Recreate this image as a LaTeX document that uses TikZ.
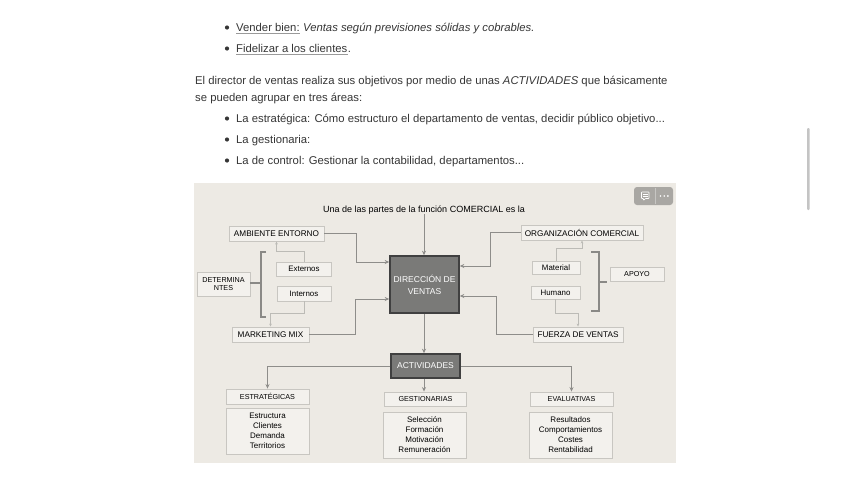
\documentclass[tikz,border=0pt]{standalone}
\usepackage{fontspec}
\setmainfont{Liberation Sans}
\usetikzlibrary{arrows.meta}
\definecolor{doctext}{HTML}{363636}
\definecolor{ulc}{HTML}{9A9A9A}
\definecolor{bg}{HTML}{EDEAE4}
\definecolor{boxfill}{HTML}{F3F1ED}
\definecolor{boxline}{HTML}{C8C6C1}
\definecolor{connc}{HTML}{8E8D8A}
\definecolor{brc}{HTML}{8A8986}
\definecolor{darkfill}{HTML}{7A7A78}
\definecolor{darkline}{HTML}{404040}
\definecolor{iconc}{HTML}{A9A7A3}
\definecolor{scrollc}{HTML}{C4C4C4}
\tikzset{
  doc/.style={anchor=base west, inner sep=0pt, text=doctext, font=\fontsize{11.3}{13}\selectfont},
  uline/.style={draw=ulc, line width=0.8pt},
  bullet/.style={fill=doctext},
  lbox/.style={draw=boxline, fill=boxfill, line width=0.9pt, inner sep=0pt, text=black, align=center},
  bigf/.style={font=\fontsize{8.2}{9.5}\selectfont},
  smallf/.style={font=\fontsize{7.2}{8.5}\selectfont},
  lowf/.style={font=\fontsize{7.9}{9}\selectfont},
  listf/.style={font=\fontsize{8}{10}\selectfont},
  dbox/.style={draw=darkline, fill=darkfill, line width=1.6pt, inner sep=0pt, text=white, align=center, font=\fontsize{8.5}{12}\selectfont},
  conn/.style={draw=connc, line width=1pt, -{Stealth[length=4.5pt,width=4pt]}},
  thinconn/.style={draw=boxline!80!connc, line width=0.8pt, -{Stealth[length=3pt,width=2.6pt]}},
  brk/.style={draw=brc, line width=1.2pt},
}
\begin{document}
\begin{tikzpicture}[x=1pt,y=-1pt]
\useasboundingbox (0,0) rectangle (848,477);
\fill[white] (0,0) rectangle (848,477);

% ---------- document text ----------
\fill[bullet] (227,27.5) circle (2.1);
\node[doc] (v1) at (236,31) {Vender bien:};
\node[doc] (v2) at ([xshift=3.1pt]v1.base east) {\itshape Ventas según previsiones sólidas y cobrables.};
\draw[uline] ([yshift=-2.6pt]v1.base west) -- ([yshift=-2.6pt]v1.base east);

\fill[bullet] (227,48.5) circle (2.1);
\node[doc] (f1) at (236,52) {Fidelizar a los clientes};
\node[doc] (f2) at (f1.base east) {.};
\draw[uline] ([yshift=-2.6pt]f1.base west) -- ([yshift=-2.6pt]f1.base east);

\node[doc] (p1) at (195,84) {El director de ventas realiza sus objetivos por medio de unas \textit{ACTIVIDADES} que básicamente};
\node[doc] (p2) at (195,101) {se pueden agrupar en tres áreas:};

\fill[bullet] (227,118.5) circle (2.1);
\node[doc] (l1) at (236,122) {La estratégica: Cómo estructuro el departamento de ventas, decidir público objetivo...};
\fill[bullet] (227,139.5) circle (2.1);
\node[doc] (l2) at (236,143) {La gestionaria:};
\fill[bullet] (227,160.5) circle (2.1);
\node[doc] (l3) at (236,164) {La de control: Gestionar la contabilidad, departamentos...};

% scrollbar
\fill[scrollc, rounded corners=1pt] (807,128) rectangle (809.5,210);

% ---------- diagram ----------
\fill[bg] (194,183) rectangle (676,463);

% icon box
\fill[iconc, rounded corners=3pt] (634,187) rectangle (673,205);
\draw[white!35!iconc, line width=0.6pt] (655.5,188) -- (655.5,204);
\draw[white, line width=0.6pt, rounded corners=0.5pt] (641.5,192) -- (649,192) -- (649,198.5) -- (645.5,198.5) -- (643.5,200.3) -- (643.5,198.5) -- (641.5,198.5) -- cycle;
\draw[white, line width=0.5pt] (643,194.3) -- (647.5,194.3) (643,196.3) -- (647.5,196.3);
\foreach \xx in {660.5,664.2,667.9} \fill[white] (\xx,196) circle (0.95);

% title
\node[inner sep=0pt, font=\fontsize{9}{10}\selectfont, text=black] (title) at (424,210) {Una de las partes de la función COMERCIAL es la};

% central boxes
\node[dbox, minimum width=69pt, minimum height=57pt] (dir) at (424.5,284.5) {DIRECCIÓN DE\\VENTAS};
\node[dbox, minimum width=69pt, minimum height=24pt] (act) at (425.5,366) {ACTIVIDADES};

% left side
\node[lbox, bigf, minimum width=95pt, minimum height=15pt] (amb) at (276.5,233.5) {AMBIENTE ENTORNO};
\node[lbox, bigf, minimum width=77pt, minimum height=15pt] (mkt) at (270.5,334.5) {MARKETING MIX};
\node[lbox, lowf, minimum width=55pt, minimum height=14pt] (ext) at (304,269) {Externos};
\node[lbox, lowf, minimum width=54pt, minimum height=15pt] (int) at (304,293.5) {Internos};
\node[lbox, smallf, minimum width=53pt, minimum height=24pt] (det) at (223.5,284) {DETERMINA\\NTES};

% right side
\node[lbox, bigf, minimum width=122pt, minimum height=15pt] (org) at (582,232.5) {ORGANIZACIÓN COMERCIAL};
\node[lbox, bigf, minimum width=90pt, minimum height=15pt] (fue) at (578,334.5) {FUERZA DE VENTAS};
\node[lbox, lowf, minimum width=48pt, minimum height=13pt] (mat) at (556,267.5) {Material};
\node[lbox, lowf, minimum width=49pt, minimum height=13pt] (hum) at (555.5,292.5) {Humano};
\node[lbox, smallf, minimum width=54pt, minimum height=14pt] (apo) at (637,274) {APOYO};

% bottom
\node[lbox, smallf, minimum width=83pt, minimum height=15pt] (est) at (267.5,396.5) {ESTRATÉGICAS};
\node[lbox, listf, minimum width=83pt, minimum height=46pt] (estc) at (267.5,431) {Estructura\\Clientes\\Demanda\\Territorios};
\node[lbox, smallf, minimum width=82pt, minimum height=14pt] (ges) at (425.5,399) {GESTIONARIAS};
\node[lbox, listf, minimum width=83pt, minimum height=46pt] (gesc) at (424.5,435) {Selección\\Formación\\Motivación\\Remuneración};
\node[lbox, smallf, minimum width=83pt, minimum height=14pt] (eva) at (571.5,399) {EVALUATIVAS};
\node[lbox, listf, minimum width=83pt, minimum height=46pt] (evac) at (570.5,435) {Resultados\\Comportamientos\\Costes\\Rentabilidad};

% connectors
\draw[conn] (title.south) -- (title.south |- dir.north);
\draw[conn] (amb.east) -- ++(32,0) |- (dir.west |- 0,262);
\draw[conn] (mkt.east) -- ++(46,0) |- (dir.west |- 0,299);
\draw[conn] (org.west) -- ++(-30,0) |- (dir.east |- 0,266);
\draw[conn] (fue.west) -- ++(-36,0) |- (dir.east |- 0,296);
\draw[conn] (dir.south -| title.south) -- (act.north -| title.south);
\draw[conn] (act.west) -| (est.north);
\draw[conn] (act.south -| title.south) -- (ges.north -| title.south);
\draw[conn] (act.east) -| (eva.north);

\draw[thinconn] (ext.north) -- ++(0,-10) -| (amb.south);
\draw[thinconn] (int.south) -- ++(0,12) -| (mkt.north);
\draw[thinconn] (mat.north) -- ++(0,-12) -| (org.south);
\draw[thinconn] (hum.south) -- ++(0,14) -| (fue.north);

% brackets
\coordinate (lbm) at (261,283);
\draw[brk] (266,252) -- (261,252) -- (261,317) -- (266,317);
\draw[brk] (det.east |- lbm) -- (lbm);
\coordinate (rbm) at (599,282);
\draw[brk] (591,252) -- (599,252) -- (599,311) -- (591,311);
\draw[brk] (rbm) -- ++(8,0);
\end{tikzpicture}
\end{document}
